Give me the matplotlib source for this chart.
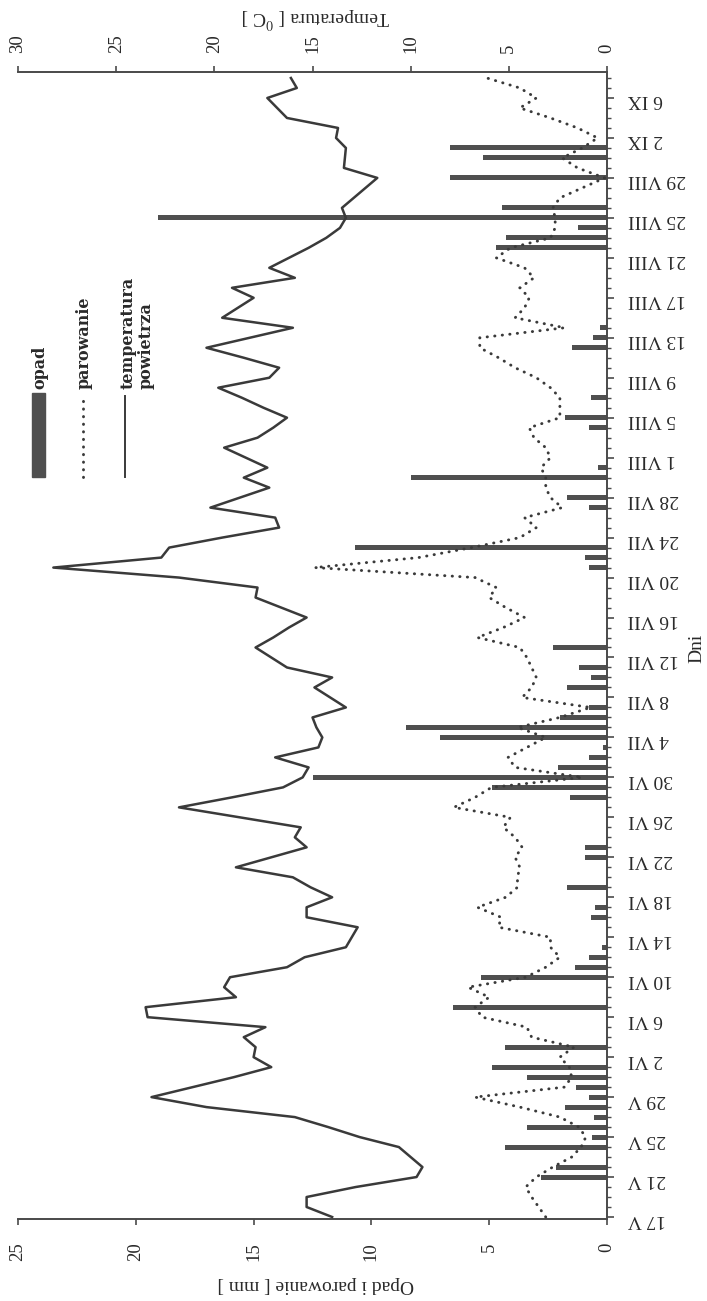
import matplotlib
matplotlib.use("Agg")
import numpy as np
import matplotlib.pyplot as plt
from matplotlib.patches import Rectangle
from matplotlib.lines import Line2D

plt.rcParams.update({
    "font.family": ["Liberation Serif", "DejaVu Serif"],
    "mathtext.fontset": "stix",
    "axes.edgecolor": "#4a4a4a",
    "axes.linewidth": 1.4,
    "text.color": "#2a2a2a",
    "xtick.color": "#4a4a4a",
    "ytick.color": "#4a4a4a",
    "xtick.labelcolor": "#2a2a2a",
    "ytick.labelcolor": "#2a2a2a",
})

INK = "#3a3a3a"
BAR = "#4f4f4f"

# days counted from 17 V (day 0) to 8 IX (day 114)
days = np.arange(115)
date_ticks = np.arange(0, 113, 4)
date_labels = ["17 V", "21 V", "25 V", "29 V", "2 VI", "6 VI", "10 VI", "14 VI",
               "18 VI", "22 VI", "26 VI", "30 VI", "4 VII", "8 VII", "12 VII",
               "16 VII", "20 VII", "24 VII", "28 VII", "1 VIII", "5 VIII",
               "9 VIII", "13 VIII", "17 VIII", "21 VIII", "25 VIII", "29 VIII",
               "2 IX", "6 IX"]

# opad [mm]
precip = [0, 0, 0, 0, 2.8, 2.15, 0, 4.35, 0.65, 3.4,
          0.55, 1.8, 0.75, 1.3, 3.4, 4.9, 0, 4.35, 0, 0,
          0, 6.55, 0, 0, 5.35, 1.35, 0.75, 0.2, 0, 0,
          0.7, 0.5, 0, 1.7, 0, 0, 0.95, 0.95, 0, 0,
          0, 0, 1.55, 4.9, 12.5, 2.1, 0.75, 0.15, 7.1, 8.55,
          2.0, 0.75, 0, 1.7, 0.7, 1.2, 0, 2.3, 0, 0,
          0, 0, 0, 0, 0, 0.75, 0.95, 10.7, 0, 0,
          0, 0.75, 1.7, 0, 8.3, 0.4, 0, 0, 0, 0.75,
          1.8, 0, 0.7, 0, 0, 0, 0, 1.5, 0.6, 0.3,
          0, 0, 0, 0, 0, 0, 0, 4.7, 4.27, 1.25,
          19.06, 4.46, 0, 0, 6.65, 0, 5.27, 6.65, 0, 0,
          0, 0, 0, 0, 0]

# parowanie [mm]
evap = [2.6, 2.9, 3.2, 3.45, 3.0, 2.3, 1.5, 1.1, 0.9, 1.2,
        2.0, 3.7, 5.6, 1.8, 1.5, 1.6, 2.0, 1.4, 3.2, 3.4,
        5.3, 5.6, 5.0, 5.9, 3.45, 2.6, 2.0, 2.4, 2.4, 4.6,
        4.5, 5.5, 4.3, 3.8, 3.8, 3.7, 3.9, 3.6, 3.9, 4.4,
        4.1, 6.5, 5.6, 4.9, 1.05, 3.9, 4.2, 3.4, 2.6, 3.8,
        2.0, 0.7, 3.6, 3.2, 3.0, 3.2, 3.4, 3.7, 5.5, 4.4,
        3.5, 4.3, 5.0, 4.7, 5.6, 12.4, 8.0, 5.75, 3.7, 3.0,
        3.5, 1.9, 2.4, 2.6, 2.6, 2.8, 2.4, 2.6, 3.1, 3.3,
        2.0, 2.0, 2.0, 2.4, 3.0, 3.9, 4.6, 5.4, 5.4, 1.8,
        3.9, 3.5, 3.3, 3.7, 3.1, 3.5, 4.7, 4.1, 2.4, 2.2,
        2.2, 2.3, 2.0, 1.05, 0.1, 1.25, 1.9, 1.05, 0.4, 1.25,
        2.4, 3.7, 3.0, 3.7, 5.1]

# temperatura powietrza [C]
temp = [14.0, 15.3, 15.3, 12.8, 9.7, 9.4, 10.0, 10.6, 12.6, 14.2,
        15.9, 20.4, 23.2, 21.1, 19.0, 17.1, 18.0, 17.9, 18.5, 17.4,
        23.4, 23.5, 18.9, 19.5, 19.2, 16.3, 15.4, 13.3, 13.0, 12.7,
        15.3, 15.3, 14.0, 15.1, 16.0, 18.9, 17.1, 15.3, 15.9, 15.6,
        18.7, 21.8, 19.1, 16.5, 15.5, 15.2, 16.9, 14.7, 14.5, 14.8,
        15.0, 13.3, 14.1, 14.9, 14.0, 16.3, 17.1, 17.9, 17.0, 16.2,
        15.3, 16.6, 17.9, 17.8, 21.8, 28.2, 22.7, 22.3, 19.6, 16.7,
        16.9, 20.2, 18.7, 17.2, 18.5, 17.3, 18.4, 19.5, 17.8, 17.0,
        16.3, 17.5, 18.6, 19.8, 17.2, 16.7, 18.5, 20.4, 18.2, 16.0,
        19.6, 18.8, 18.0, 19.1, 15.9, 17.2, 16.2, 15.2, 14.3, 13.6,
        13.3, 13.5, 12.9, 12.3, 11.7, 13.4, 13.35, 13.3, 13.8, 13.7,
        16.3, 16.8, 17.3, 15.8, 16.1]

mm_ticks = [0, 5, 10, 15, 20, 25]
t_ticks = [0, 5, 10, 15, 20, 25, 30]

# figure is drawn turned a quarter turn: days run upwards, values grow to the left
W, H = 707, 1301
L, R, T, B = 18, 607, 72, 1219
fig = plt.figure(figsize=(W / 100, H / 100), dpi=100)
ax = fig.add_axes([L / W, 1 - B / H, (R - L) / W, (B - T) / H])

ax.barh(days, precip, height=0.5, color=BAR, zorder=2)
ax.plot(evap, days, color=INK, lw=2.1, ls=(0, (0.1, 2.5)),
        dash_capstyle="round", zorder=3)
ax.set_xlim(25, 0)
ax.set_ylim(-0.2, 114.6)

ax2 = ax.twiny()
ax2.plot(temp, days, color=INK, lw=1.8, zorder=4)
ax2.set_xlim(30, 0)

for s in ("top", "left"):
    ax.spines[s].set_visible(False)
for s in ("bottom", "left", "right"):
    ax2.spines[s].set_visible(False)

# dates on the right side
ax.yaxis.tick_right()
ax.set_yticks(date_ticks)
ax.set_yticklabels(date_labels, rotation=180, fontsize=14)
ax.set_yticks(days, minor=True)
ax.tick_params(axis="y", which="major", length=5, width=1.2, pad=10)
ax.tick_params(axis="y", which="minor", length=3, width=1.0)

ax.set_xticks(mm_ticks)
ax.set_xticklabels([str(v) for v in mm_ticks], rotation=90, fontsize=13.5)
ax.tick_params(axis="x", length=4, width=1.2, pad=13)

ax2.set_xticks(t_ticks)
ax2.set_xticklabels([str(v) for v in t_ticks], rotation=90, fontsize=13.5)
ax2.tick_params(axis="x", length=4, width=1.2, pad=10)

fig.text(316 / W, 1 - 1285 / H, "Opad i parowanie [ mm ]", rotation=180,
         ha="center", va="center", fontsize=14)
fig.text(316 / W, 1 - 17 / H, "Temperatura [ $^{0}$C ]", rotation=180,
         ha="center", va="center", fontsize=14)
fig.text(697 / W, 1 - 648 / H, "Dni", rotation=90,
         ha="center", va="center", fontsize=14)

# legend, turned with the chart
def ax_xy(px, py):
    return (px - L) / (R - L), (B - py) / (B - T)

x0, y0 = ax_xy(32, 477)
x1, y1 = ax_xy(45, 393)
ax.add_patch(Rectangle((x0, y0), x1 - x0, y1 - y0, transform=ax.transAxes,
                       color=BAR, clip_on=False, zorder=5))
for px, ls in ((83, (0, (0.1, 2.5))), (125, "-")):
    xa, ya0 = ax_xy(px, 477)
    _, ya1 = ax_xy(px, 396)
    ax.add_line(Line2D([xa, xa], [ya0, ya1], transform=ax.transAxes, color=INK,
                       lw=(2.1 if ls != "-" else 1.4), ls=ls,
                       dash_capstyle="round", clip_on=False))
leg_font = dict(family="DejaVu Serif", fontweight="bold", fontsize=11.5,
                rotation=90, ha="center", va="bottom", transform=ax.transAxes)
tx, ty = ax_xy(40, 389)
ax.text(tx, ty, "opad", **leg_font)
tx, _ = ax_xy(84, 389)
ax.text(tx, ty, "parowanie", **leg_font)
tx, _ = ax_xy(137, 389)
ax.text(tx, ty, "temperatura\npowietrza", multialignment="left",
        linespacing=1.1, **leg_font)

fig.savefig("out.png", dpi=100, facecolor="white")
